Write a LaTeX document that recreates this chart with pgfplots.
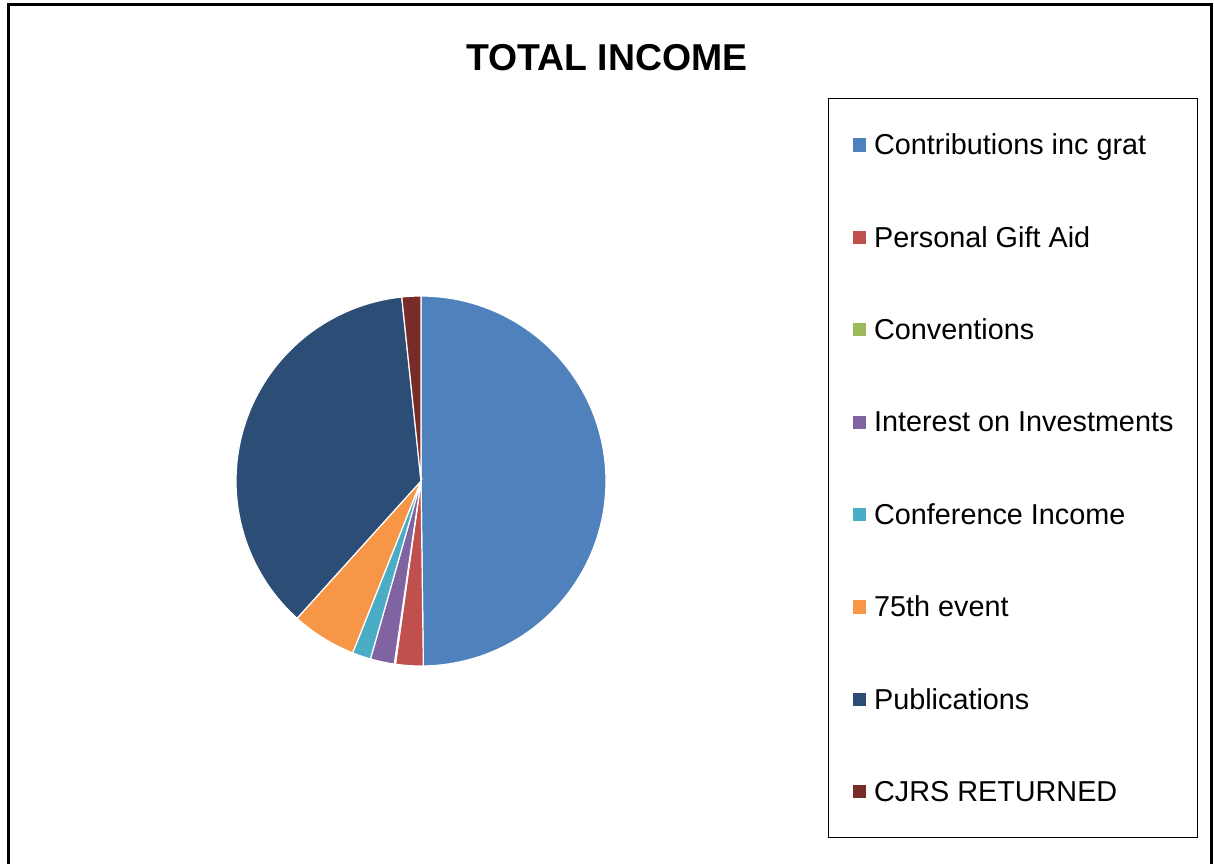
\documentclass[border=0pt]{standalone}
\usepackage{pgfplots}
\pgfplotsset{compat=1.18}
\usepackage{pgfplotstable}
\usepackage{fontspec}
\setmainfont{Liberation Sans}

\definecolor{cS0}{HTML}{4F81BD}
\definecolor{cS1}{HTML}{C0504D}
\definecolor{cS2}{HTML}{9BBB59}
\definecolor{cS3}{HTML}{8064A2}
\definecolor{cS4}{HTML}{4BACC6}
\definecolor{cS5}{HTML}{F79646}
\definecolor{cS6}{HTML}{2C4D75}
\definecolor{cS7}{HTML}{772C2A}

% share of total income, percent
\pgfplotstableread[col sep=comma]{
name,value
Contributions inc grat,49.85
Personal Gift Aid,2.41
Conventions,0.1
Interest on Investments,2.1
Conference Income,1.62
75th event,5.67
Publications,36.69
CJRS RETURNED,1.66
}\income

% running totals -> slice angles, clockwise from the top
\xdef\total{0}
\pgfplotstableforeachcolumnelement{value}\of\income\as\v{%
  \pgfmathsetmacro\tmp{\total+\v}\xdef\total{\tmp}%
  \expandafter\xdef\csname cum\pgfplotstablerow\endcsname{\total}}
\xdef\prev{0}
\foreach \i in {0,...,7}{%
  \pgfmathsetmacro\aa{\prev/\total*360}%
  \pgfmathsetmacro\bb{\csname cum\i\endcsname/\total*360}%
  \expandafter\xdef\csname a\i\endcsname{\aa}%
  \expandafter\xdef\csname b\i\endcsname{\bb}%
  \xdef\prev{\csname cum\i\endcsname}%
  \pgfplotstablegetelem{\i}{name}\of\income
  \expandafter\xdef\csname n\i\endcsname{\pgfplotsretval}}

\begin{document}
\begin{tikzpicture}
\useasboundingbox (0,0) rectangle (607pt,431.5pt);
\draw[line width=1.5pt] (4pt,-5pt) -- (4pt,429pt) -- (605.5pt,429pt) -- (605.5pt,-5pt);
\node[font=\bfseries\fontsize{18.7pt}{22pt}\selectfont] at (303.5pt,402.5pt) {TOTAL INCOME};
\begin{axis}[
  at={(210.5pt,191pt)}, anchor=center,
  scale only axis, width=185pt, height=185pt,
  xmin=-1, xmax=1, ymin=-1, ymax=1,
  hide axis, clip=false,
  legend cell align=left,
  legend image code/.code={\fill[#1,draw=none] (0pt,-3.4pt) rectangle (6.6pt,3.2pt);},
  legend style={
    at={(1.6,1.5351)}, anchor=north west,
    draw=black, line width=0.5pt,
    inner xsep=12pt, inner ysep=0pt,
    row sep=0pt, column sep=4.2pt,
    font=\fontsize{14.4pt}{17pt}\selectfont,
    nodes={inner sep=0pt, text height=28.1pt, text depth=18.1pt}
  }
]
\pgfplotsinvokeforeach{0,...,7}{
  \addplot[draw=white, line width=0.6pt, fill=cS#1,
    domain=\csname a#1\endcsname:\csname b#1\endcsname, samples=90]
    ({sin(x)},{cos(x)}) -- (0,0) -- cycle;
  \addlegendentryexpanded{\csname n#1\endcsname}
}
\end{axis}
\end{tikzpicture}
\end{document}
